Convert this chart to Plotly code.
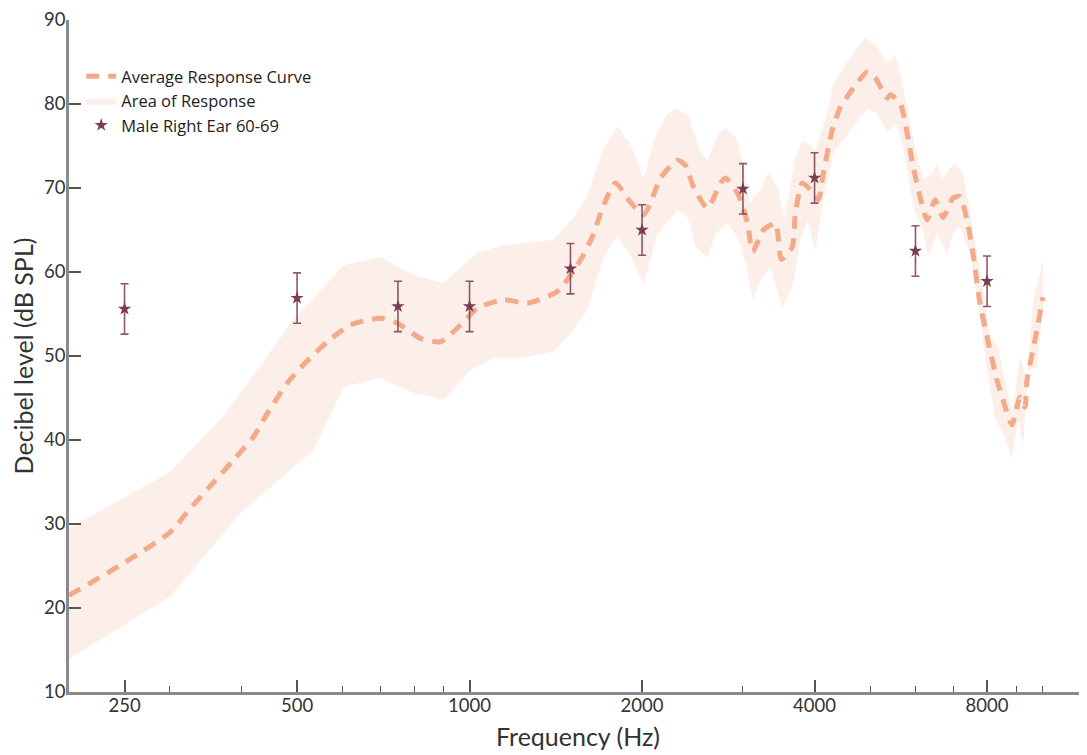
import plotly.graph_objects as go

# ---- Average response curve (Hz, dB SPL) ----
mean_freq = [200, 250, 300, 326, 357, 387, 420, 444, 481, 517, 565, 620, 699, 749, 821, 890, 965,
             1032, 1146, 1262, 1424, 1561, 1638, 1706, 1797, 1909, 2012, 2069, 2154, 2307, 2382,
             2461, 2602, 2742, 2797, 2945, 3056, 3118, 3258, 3420, 3500, 3658, 3703, 3808, 3934,
             4061, 4144, 4295, 4437, 4674, 4945, 5107, 5357, 5423, 5644, 5803, 5946, 6114, 6290,
             6493, 6705, 6979, 7176, 7381, 7561, 7775, 8000, 8325, 8529, 8843, 9131, 9316, 9393,
             9776, 10016]
mean_db = [21.5, 25.4, 29.0, 31.9, 34.9, 37.6, 40.4, 43.2, 46.8, 49.2, 51.7, 53.7, 54.5, 53.9, 52.1,
           51.7, 53.7, 55.7, 56.7, 56.3, 57.7, 61.4, 64.2, 67.6, 70.6, 68.3, 66.8, 68.2, 71.2, 73.3,
           72.7, 70.1, 67.6, 70.6, 71.2, 69.2, 65.8, 62.4, 65.0, 65.8, 61.5, 63.0, 67.0, 70.6, 69.8,
           68.6, 71.8, 76.9, 79.6, 81.9, 83.8, 83.1, 80.7, 81.1, 80.1, 76.5, 72.5, 68.9, 66.2, 68.6,
           66.5, 68.8, 69.0, 66.2, 62.2, 56.3, 52.3, 47.1, 44.8, 41.8, 45.1, 43.9, 47.1, 53.1, 57.0]

# ---- Area of response: upper edge ----
upper_freq = [200, 300, 368, 410, 493, 603, 699, 798, 901, 1032, 1150, 1330, 1401, 1519, 1600, 1713,
              1812, 1917, 2012, 2111, 2207, 2297, 2412, 2520, 2602, 2719, 2797, 2911, 2995, 3080,
              3219, 3324, 3448, 3545, 3703, 3808, 3918, 4013, 4195, 4313, 4619, 4907, 5147, 5357,
              5533, 5712, 5946, 6190, 6443, 6545, 6677, 6841, 7033, 7264, 7469, 7775, 8095, 8359,
              8529, 8843, 9131, 9393, 9622, 10016]
upper_db = [29.5, 36.2, 42.5, 46.8, 54.3, 60.8, 61.8, 59.6, 58.7, 62.3, 63.2, 63.6, 63.8, 66.5, 68.8,
            74.7, 77.3, 74.9, 71.2, 76.1, 78.7, 79.5, 78.5, 74.5, 73.3, 76.5, 77.1, 76.1, 73.3, 68.2,
            69.8, 71.8, 70.1, 66.2, 73.7, 75.5, 75.2, 74.5, 78.5, 82.3, 85.6, 87.9, 86.7, 84.9,
            85.8, 82.0, 75.7, 71.0, 71.8, 73.0, 71.0, 72.1, 73.0, 71.8, 67.0, 60.2, 52.3, 51.1,
            48.3, 43.2, 49.9, 47.1, 56.3, 61.4]

# ---- Area of response: lower edge ----
lower_freq = [200, 300, 398, 534, 603, 699, 798, 901, 1004, 1101, 1227, 1401, 1501, 1606, 1713, 1812,
              1909, 2012, 2129, 2307, 2402, 2480, 2602, 2687, 2820, 2935, 3031, 3118, 3219, 3352,
              3516, 3673, 3778, 3886, 4013, 4144, 4313, 4619, 4945, 5147, 5357, 5575, 5758, 5946,
              6190, 6316, 6545, 6813, 6979, 7176, 7469, 7713, 8000, 8258, 8529, 8843, 9061, 9245,
              9432, 9776, 10016]
lower_db = [14.0, 21.3, 31.3, 38.8, 46.3, 47.4, 45.6, 44.8, 48.3, 49.8, 49.8, 50.5, 52.7, 55.5, 61.8,
            64.2, 62.0, 58.5, 64.6, 67.4, 66.5, 63.0, 61.7, 64.6, 65.8, 64.2, 61.1, 56.7, 59.0, 60.6,
            55.7, 58.7, 63.8, 66.2, 62.5, 68.5, 74.2, 76.9, 79.5, 78.9, 76.7, 77.7, 73.7, 67.7,
            65.0, 61.8, 64.6, 62.2, 64.6, 65.4, 62.2, 56.3, 48.3, 42.7, 40.8, 37.9, 42.4, 39.2,
            48.3, 48.7, 55.8]

# ---- Male right ear 60-69 measurements ----
ear_freq = [250, 500, 750, 1000, 1500, 2000, 3000, 4000, 6000, 8000]
ear_db = [55.6, 56.9, 55.9, 55.9, 60.4, 65.0, 69.9, 71.2, 62.5, 58.9]
ear_err = [3, 3, 3, 3, 3, 3, 3, 3, 3, 3]

# ---- Axis ticks ----
major_ticks = [250, 500, 1000, 2000, 4000, 8000]
major_labels = ["250", "500", "1000", "2000", "4000", "8000"]
minor_ticks = [300, 400, 600, 700, 800, 900, 3000, 5000, 6000, 7000, 9000, 10000]
y_ticks = [10, 20, 30, 40, 50, 60, 70, 80, 90]

FONT = "Lato"
LINE_COL = "#F2AA88"
BAND_COL = "#FCEEE8"
EAR_COL = "#7A3C52"

fig = go.Figure()

fig.add_trace(go.Scatter(
    x=upper_freq + lower_freq[::-1],
    y=upper_db + lower_db[::-1],
    fill="toself", fillcolor=BAND_COL, mode="lines",
    line=dict(width=0, color=BAND_COL),
    name="Area of Response", legendrank=2, legendgroup="b", hoverinfo="skip"))

fig.add_trace(go.Scatter(
    x=mean_freq, y=mean_db, mode="lines",
    line=dict(color=LINE_COL, width=5, dash="13px,9px", shape="spline", smoothing=0.6),
    name="Average Response Curve", legendrank=1, legendgroup="a"))

fig.add_trace(go.Scatter(
    x=ear_freq, y=ear_db, mode="markers",
    marker=dict(symbol="star", size=10, color=EAR_COL),
    error_y=dict(type="data", array=ear_err, visible=True, color="rgba(122,60,82,0.85)",
                 thickness=1.6, width=4),
    name="Male Right Ear 60-69", legendrank=3, legendgroup="c"))

# page body has an 8px margin, so the figure is made 8px smaller and margins shifted
fig.update_layout(
    width=1079, height=747,
    margin=dict(l=61, r=0, t=12, b=63),
    paper_bgcolor="white", plot_bgcolor="white",
    font=dict(family=FONT, color="#333333", size=18),
    legend=dict(x=0.012, y=0.942, xanchor="left", yanchor="top",
                font=dict(family="Open Sans", size=16.5, color="#222222"),
                bgcolor="rgba(0,0,0,0)", tracegroupgap=0, itemwidth=30),
    showlegend=True,
)

fig.update_xaxes(
    type="log", range=[2.301, 4.0775], automargin=False,
    tickmode="array", tickvals=major_ticks, ticktext=major_labels,
    ticks="inside", ticklen=12, tickwidth=1.5, tickcolor="#555555",
    minor=dict(tickmode="array", tickvals=minor_ticks, ticks="inside", ticklen=6,
               tickwidth=1.3, tickcolor="#555555", showgrid=False),
    showline=True, linecolor="#8a8a8a", linewidth=2.5,
    showgrid=False, zeroline=False,
    tickfont=dict(size=18.5, color="#333333"), ticklabelstandoff=-5,
    title=dict(text="Frequency (Hz)", font=dict(size=25, color="#333333"), standoff=14),
)

fig.update_yaxes(
    range=[10, 90], tickmode="array", tickvals=y_ticks, automargin=False,
    ticks="inside", ticklen=12, tickwidth=1.5, tickcolor="#555555",
    showline=True, linecolor="#8a8a8a", linewidth=2.5,
    showgrid=False, zeroline=False,
    tickfont=dict(size=18.5, color="#333333"), ticklabelstandoff=-3,
    title=dict(text="Decibel level (dB SPL)", font=dict(size=25, color="#333333"), standoff=10),
)

fig.write_html("out.html")
